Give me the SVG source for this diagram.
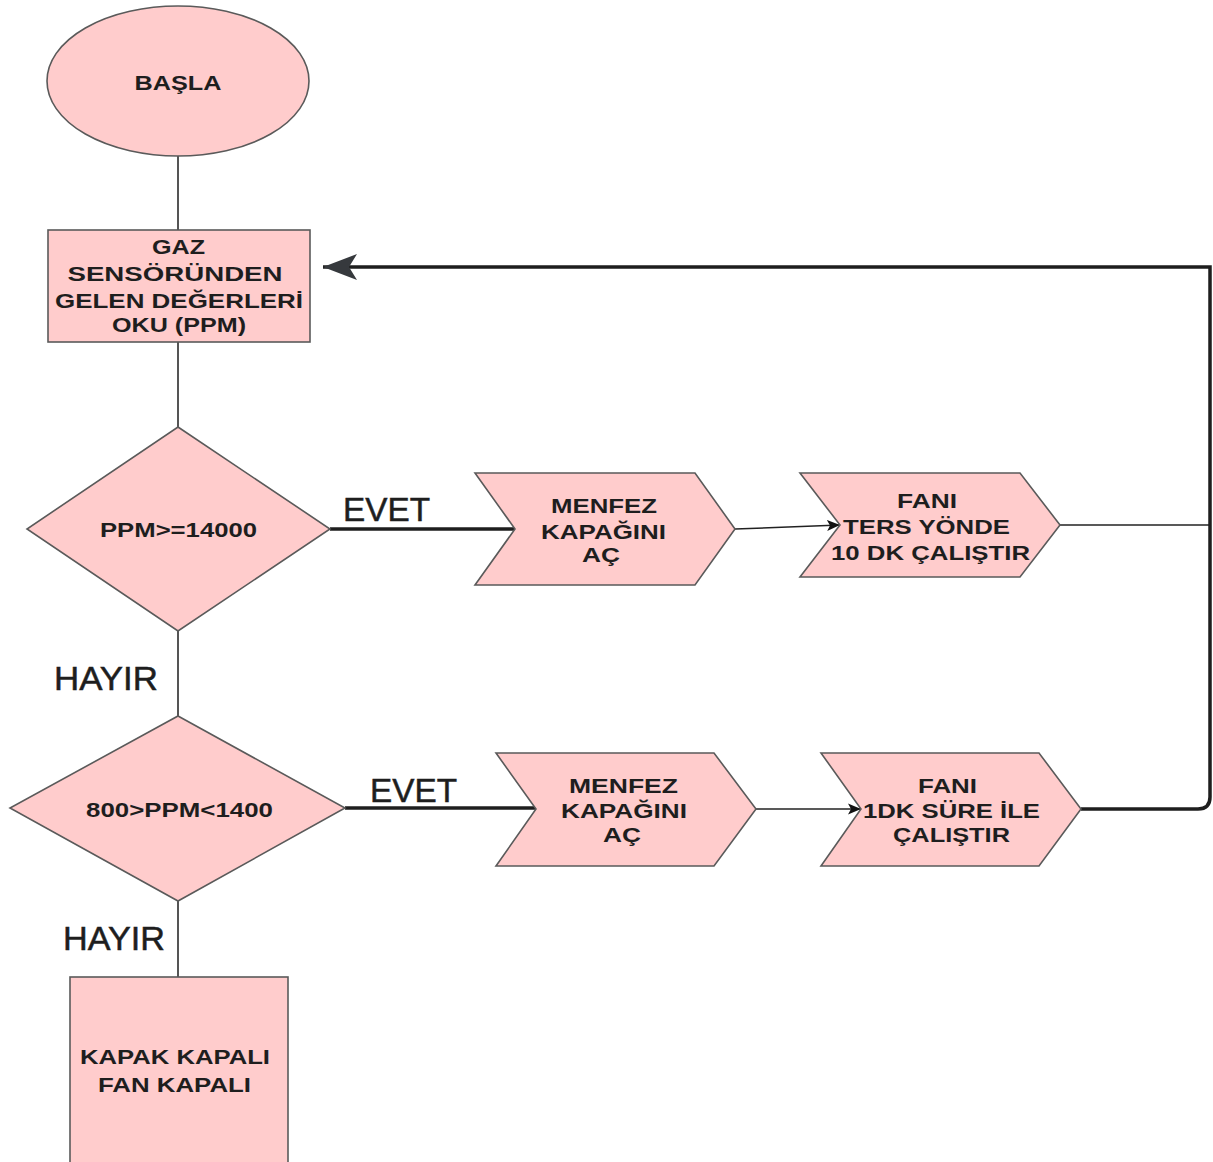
<svg xmlns="http://www.w3.org/2000/svg" width="1213" height="1162" viewBox="0 0 1213 1162">
<style>
.n{fill:#ffcccc;stroke:#5a5a5a;stroke-width:1.6}
.t{font-family:"Liberation Sans",Arial,sans-serif;font-size:21px;font-weight:bold;fill:#1e1e1e;text-anchor:middle}
.l{font-family:"Liberation Sans",Arial,sans-serif;font-size:33px;fill:#1e1e1e;stroke:#1e1e1e;stroke-width:0.5}
.thin{fill:none;stroke:#555;stroke-width:2}
.thick{fill:none;stroke:#1e1e1e;stroke-width:3.5}
.arr{fill:none;stroke:#222;stroke-width:1.5}
</style>
<defs>
<marker id="big" markerUnits="userSpaceOnUse" markerWidth="36" markerHeight="30" refX="34" refY="14" orient="auto">
<path d="M0,1 L34,14 L0,27 L8,14 Z" fill="#36393d"/>
</marker>
<marker id="small" markerUnits="userSpaceOnUse" markerWidth="14" markerHeight="12" refX="13" refY="6" orient="auto">
<path d="M0,0.5 L13,6 L0,11.5 L3,6 Z" fill="#111"/>
</marker>
</defs>
<rect width="1213" height="1162" fill="#fff"/>
<g id="connectors">
<line class="thin" x1="178" y1="156" x2="178" y2="230"/>
<line class="thin" x1="178" y1="342" x2="178" y2="427"/>
<line class="thin" x1="178" y1="631" x2="178" y2="716"/>
<line class="thin" x1="178" y1="901" x2="178" y2="977"/>
<line class="thick" x1="330" y1="529" x2="515" y2="529"/>
<line class="thick" x1="345" y1="808" x2="536" y2="808"/>
<line class="arr" x1="735" y1="529" x2="840" y2="525" marker-end="url(#small)"/>
<line class="arr" x1="756" y1="809" x2="861" y2="809" marker-end="url(#small)"/>
<line class="arr" x1="1060" y1="525" x2="1210" y2="525"/>
<path class="thick" d="M1081,809 L1198,809 Q1210,809 1210,797 L1210,267 L323,267" marker-end="url(#big)"/>
</g>
<g id="start">
<ellipse class="n" cx="178" cy="81" rx="131" ry="75"/>
<text class="t" x="178" y="90" textLength="87" lengthAdjust="spacingAndGlyphs">BAŞLA</text>
</g>
<g id="read">
<rect class="n" x="48" y="230" width="262" height="112"/>
<text class="t" x="178.5" y="254" textLength="53" lengthAdjust="spacingAndGlyphs">GAZ</text>
<text class="t" x="175" y="281" textLength="215" lengthAdjust="spacingAndGlyphs">SENSÖRÜNDEN</text>
<text class="t" x="179" y="308" textLength="248" lengthAdjust="spacingAndGlyphs">GELEN DEĞERLERİ</text>
<text class="t" x="179" y="332" textLength="134" lengthAdjust="spacingAndGlyphs">OKU (PPM)</text>
</g>
<g id="dec1">
<polygon class="n" points="178,427 330,529 178,631 27,529"/>
<text class="t" x="178.5" y="537" textLength="157" lengthAdjust="spacingAndGlyphs" font-weight="normal">PPM&gt;=14000</text>
</g>
<g id="dec2">
<polygon class="n" points="178,716 345,808 178,901 10,808"/>
<text class="t" x="179.5" y="817" textLength="187" lengthAdjust="spacingAndGlyphs" font-weight="normal">800&gt;PPM&lt;1400</text>
</g>
<g id="open1">
<path class="n" d="M475,473 L695,473 L735,529 L695,585 L475,585 L515,529 Z"/>
<text class="t" x="604" y="513" textLength="106" lengthAdjust="spacingAndGlyphs">MENFEZ</text>
<text class="t" x="603.5" y="539" textLength="125" lengthAdjust="spacingAndGlyphs">KAPAĞINI</text>
<text class="t" x="601" y="562" textLength="38" lengthAdjust="spacingAndGlyphs">AÇ</text>
</g>
<g id="fan1">
<path class="n" d="M800,473 L1020,473 L1060,525 L1020,577 L800,577 L840,525 Z"/>
<text class="t" x="927" y="508" textLength="60" lengthAdjust="spacingAndGlyphs">FANI</text>
<text class="t" x="926.5" y="534" textLength="167" lengthAdjust="spacingAndGlyphs">TERS YÖNDE</text>
<text class="t" x="930.5" y="560" textLength="199" lengthAdjust="spacingAndGlyphs">10 DK ÇALIŞTIR</text>
</g>
<g id="open2">
<path class="n" d="M496,753 L714,753 L756,809 L714,866 L496,866 L536,809 Z"/>
<text class="t" x="623.5" y="793" textLength="109" lengthAdjust="spacingAndGlyphs">MENFEZ</text>
<text class="t" x="624" y="818" textLength="126" lengthAdjust="spacingAndGlyphs">KAPAĞINI</text>
<text class="t" x="622" y="842" textLength="38" lengthAdjust="spacingAndGlyphs">AÇ</text>
</g>
<g id="fan2">
<path class="n" d="M821,753 L1039,753 L1081,809 L1039,866 L821,866 L861,809 Z"/>
<text class="t" x="947.5" y="793" textLength="59" lengthAdjust="spacingAndGlyphs">FANI</text>
<text class="t" x="951.5" y="818" textLength="177" lengthAdjust="spacingAndGlyphs">1DK SÜRE İLE</text>
<text class="t" x="951.5" y="842" textLength="117" lengthAdjust="spacingAndGlyphs">ÇALIŞTIR</text>
</g>
<g id="off">
<rect class="n" x="70" y="977" width="218" height="200"/>
<text class="t" x="175" y="1064" textLength="190" lengthAdjust="spacingAndGlyphs">KAPAK KAPALI</text>
<text class="t" x="174.5" y="1092" textLength="153" lengthAdjust="spacingAndGlyphs">FAN KAPALI</text>
</g>
<g id="labels">
<text class="l" x="343" y="521" textLength="87" lengthAdjust="spacingAndGlyphs">EVET</text>
<text class="l" x="370" y="802" textLength="87" lengthAdjust="spacingAndGlyphs">EVET</text>
<text class="l" x="54" y="690" textLength="104" lengthAdjust="spacingAndGlyphs">HAYIR</text>
<text class="l" x="63" y="950" textLength="102" lengthAdjust="spacingAndGlyphs">HAYIR</text>
</g>
</svg>
